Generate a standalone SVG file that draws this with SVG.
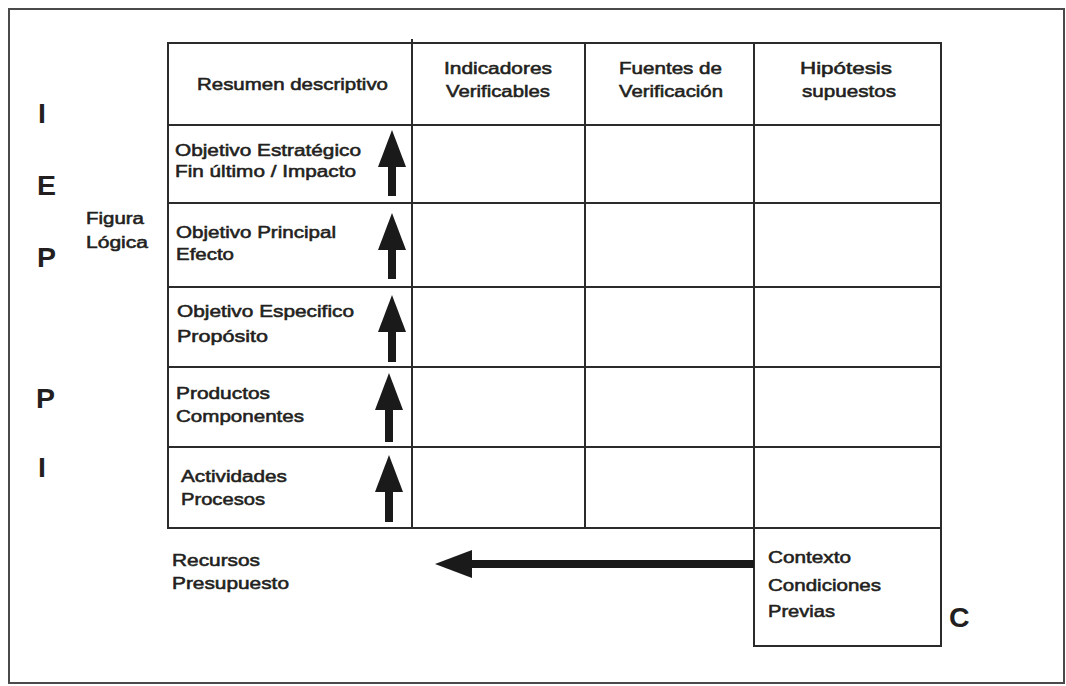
<svg xmlns="http://www.w3.org/2000/svg" xmlns:xlink="http://www.w3.org/1999/xlink" width="1066" height="686" viewBox="0 0 1066 686">
<style>
.t{font-family:"Liberation Sans",Arial,Helvetica,sans-serif;font-size:16.5px;fill:#231f20;stroke:#231f20;stroke-width:0.55px}
.big{font-family:"Liberation Sans",Arial,Helvetica,sans-serif;font-size:28.5px;font-weight:bold;fill:#231f20}
.ln{stroke:#2b2b2b;stroke-width:2;fill:none}
.cell{fill:#fff;stroke:#2b2b2b;stroke-width:2}
.arr{stroke:#1a1a1a;stroke-width:8;fill:none;marker-end:url(#head)}
</style>
<defs>
<marker id="head" markerUnits="userSpaceOnUse" markerWidth="38" markerHeight="28" refX="0" refY="14" orient="auto" overflow="visible">
<path d="M0,0 L37,14 L0,28 Z" fill="#1a1a1a"/>
</marker>
</defs>
<rect width="1066" height="686" fill="#fff"/>
<rect id="frame" x="9" y="9" width="1055" height="674" fill="none" stroke="#4a4a4a" stroke-width="2"/>

<g id="side-labels">
<text class="big" x="38" y="123">I</text>
<text class="big" x="37" y="195">E</text>
<text class="big" x="37" y="267">P</text>
<text class="big" x="36" y="408">P</text>
<text class="big" x="38" y="477">I</text>
<text class="big" x="949" y="627">C</text>
</g>

<g id="figura-logica">
<text class="t" x="86" y="224" textLength="58" lengthAdjust="spacingAndGlyphs">Figura</text>
<text class="t" x="86" y="248" textLength="62" lengthAdjust="spacingAndGlyphs">Lógica</text>
</g>

<g id="header">
<g id="h-resumen"><rect class="cell" x="168" y="43" width="244" height="82"/>
<text class="t" x="197" y="90" textLength="191" lengthAdjust="spacingAndGlyphs">Resumen descriptivo</text></g>
<g id="h-indicadores"><rect class="cell" x="412" y="43" width="173" height="82"/>
<text class="t" x="444" y="74" textLength="108" lengthAdjust="spacingAndGlyphs">Indicadores</text>
<text class="t" x="446" y="97" textLength="104" lengthAdjust="spacingAndGlyphs">Verificables</text></g>
<g id="h-fuentes"><rect class="cell" x="585" y="43" width="169" height="82"/>
<text class="t" x="619" y="74" textLength="103" lengthAdjust="spacingAndGlyphs">Fuentes de</text>
<text class="t" x="619" y="97" textLength="104" lengthAdjust="spacingAndGlyphs">Verificación</text></g>
<g id="h-hipotesis"><rect class="cell" x="754" y="43" width="187" height="82"/>
<text class="t" x="800" y="74" textLength="92" lengthAdjust="spacingAndGlyphs">Hipótesis</text>
<text class="t" x="802" y="97" textLength="94" lengthAdjust="spacingAndGlyphs">supuestos</text></g>
<line class="ln" x1="412" y1="39" x2="412" y2="43"/>
</g>

<g id="grid">
<rect class="cell" x="412" y="125" width="173" height="78"/><rect class="cell" x="585" y="125" width="169" height="78"/><rect class="cell" x="754" y="125" width="187" height="78"/>
<rect class="cell" x="412" y="203" width="173" height="84"/><rect class="cell" x="585" y="203" width="169" height="84"/><rect class="cell" x="754" y="203" width="187" height="84"/>
<rect class="cell" x="412" y="287" width="173" height="80"/><rect class="cell" x="585" y="287" width="169" height="80"/><rect class="cell" x="754" y="287" width="187" height="80"/>
<rect class="cell" x="412" y="367" width="173" height="80"/><rect class="cell" x="585" y="367" width="169" height="80"/><rect class="cell" x="754" y="367" width="187" height="80"/>
<rect class="cell" x="412" y="447" width="173" height="81"/><rect class="cell" x="585" y="447" width="169" height="81"/><rect class="cell" x="754" y="447" width="187" height="81"/>
</g>

<g id="row-estrategico"><rect class="cell" x="168" y="125" width="244" height="78"/>
<text class="t" x="175" y="156" textLength="186" lengthAdjust="spacingAndGlyphs">Objetivo Estratégico</text>
<text class="t" x="175" y="177" textLength="181" lengthAdjust="spacingAndGlyphs">Fin último / Impacto</text></g>
<g id="row-principal"><rect class="cell" x="168" y="203" width="244" height="84"/>
<text class="t" x="176" y="238" textLength="160" lengthAdjust="spacingAndGlyphs">Objetivo Principal</text>
<text class="t" x="176" y="260" textLength="58" lengthAdjust="spacingAndGlyphs">Efecto</text></g>
<g id="row-especifico"><rect class="cell" x="168" y="287" width="244" height="80"/>
<text class="t" x="177" y="317" textLength="177" lengthAdjust="spacingAndGlyphs">Objetivo Especifico</text>
<text class="t" x="177" y="342" textLength="91" lengthAdjust="spacingAndGlyphs">Propósito</text></g>
<g id="row-productos"><rect class="cell" x="168" y="367" width="244" height="80"/>
<text class="t" x="176" y="399" textLength="94" lengthAdjust="spacingAndGlyphs">Productos</text>
<text class="t" x="176" y="422" textLength="128" lengthAdjust="spacingAndGlyphs">Componentes</text></g>
<g id="row-actividades"><rect class="cell" x="168" y="447" width="244" height="81"/>
<text class="t" x="181" y="482" textLength="106" lengthAdjust="spacingAndGlyphs">Actividades</text>
<text class="t" x="181" y="505" textLength="84" lengthAdjust="spacingAndGlyphs">Procesos</text></g>

<g id="recursos">
<text class="t" x="172" y="566" textLength="88" lengthAdjust="spacingAndGlyphs">Recursos</text>
<text class="t" x="172" y="589" textLength="117" lengthAdjust="spacingAndGlyphs">Presupuesto</text>
</g>

<g id="contexto"><rect class="cell" x="754" y="528" width="187" height="118"/>
<text class="t" x="768" y="563" textLength="83" lengthAdjust="spacingAndGlyphs">Contexto</text>
<text class="t" x="768" y="591" textLength="113" lengthAdjust="spacingAndGlyphs">Condiciones</text>
<text class="t" x="768" y="617" textLength="67" lengthAdjust="spacingAndGlyphs">Previas</text></g>

<g id="connectors">
<line class="arr" x1="392" y1="196" x2="392" y2="167"/>
<line class="arr" x1="392" y1="279" x2="392" y2="250"/>
<line class="arr" x1="392" y1="362" x2="392" y2="332"/>
<line class="arr" x1="389" y1="442" x2="389" y2="410"/>
<line class="arr" x1="389" y1="522" x2="389" y2="492"/>
<line class="arr" x1="754" y1="564" x2="472" y2="564"/>
</g>
</svg>
